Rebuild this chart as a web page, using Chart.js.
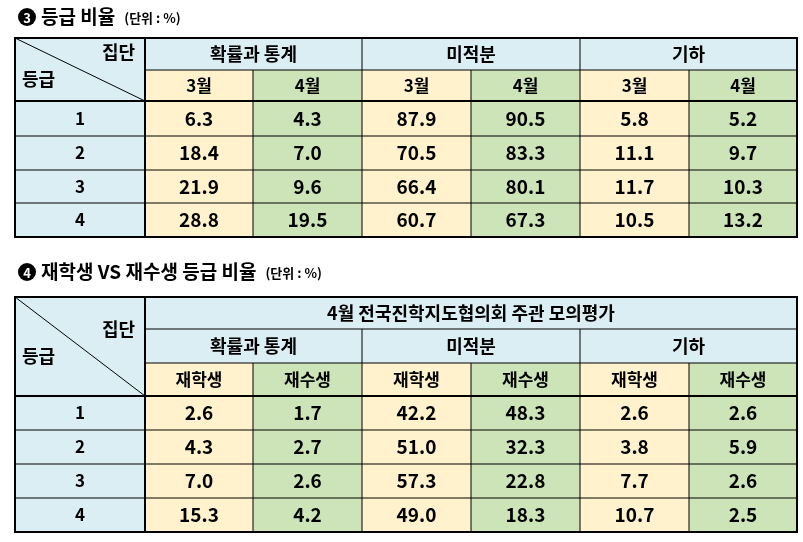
<!DOCTYPE html>
<html><head><meta charset="utf-8">
<script src="https://cdn.jsdelivr.net/npm/chart.js@4"></script>
<style>html,body{margin:0;padding:0;background:#fff}#w{width:803px;height:542px}</style>
</head><body><div id="w"><canvas id="c"></canvas></div>
<script>
const grades = ['1','2','3','4'];
const subjects = ['확률과 통계','미적분','기하'];
const months = ['3월','4월'];
const groups2 = ['재학생','재수생'];
const title1 = '등급 비율';
const title2 = '재학생 VS 재수생 등급 비율';
const title2Header = '4월 전국진학지도협의회 주관 모의평가';
const t1Prob3 = [6.3,18.4,21.9,28.8], t1Prob4 = [4.3,7.0,9.6,19.5];
const t1Calc3 = [87.9,70.5,66.4,60.7], t1Calc4 = [90.5,83.3,80.1,67.3];
const t1Geo3 = [5.8,11.1,11.7,10.5], t1Geo4 = [5.2,9.7,10.3,13.2];
const t2ProbA = [2.6,4.3,7.0,15.3], t2ProbB = [1.7,2.7,2.6,4.2];
const t2CalcA = [42.2,51.0,57.3,49.0], t2CalcB = [48.3,32.3,22.8,18.3];
const t2GeoA = [2.6,3.8,7.7,10.7], t2GeoB = [2.6,5.9,2.6,2.5];

const BLUE='#DAEEF3', YEL='#FFF2CC', GRN='#CCE4B8';
const F='"Noto Sans CJK KR", "Noto Sans", sans-serif';
const colX=[15,145,253,362,471,580,689,797];

const plugin={id:'tbl',afterDraw(chart){
  const ctx=chart.ctx, sx=chart.scales.x, sy=chart.scales.y;
  const X=v=>sx.getPixelForValue(v), Y=v=>sy.getPixelForValue(v);
  function rect(x0,y0,x1,y1,fill){ctx.fillStyle=fill;ctx.fillRect(X(x0),Y(y0),X(x1)-X(x0),Y(y1)-Y(y0));}
  function txt(s,x,y,size,align){ctx.fillStyle='#000';ctx.font='bold '+size+'px '+F;ctx.textAlign=align||'center';ctx.textBaseline='middle';ctx.fillText(s,X(x),Y(y));}
  function line(x0,y0,x1,y1,w){ctx.strokeStyle='#000';ctx.lineWidth=w;ctx.beginPath();ctx.moveTo(X(x0),Y(y0));ctx.lineTo(X(x1),Y(y1));ctx.stroke();}
  function drawTable(rowsY,groupRow,subjRow,subRow,cols){
    const top=rowsY[0], bot=rowsY[rowsY.length-1], hb=rowsY[subRow+1];
    rect(15,top,797,hb,BLUE);
    for(let k=0;k<6;k++) rect(colX[k+1],rowsY[subRow],colX[k+2],bot,k%2?GRN:YEL);
    rect(15,hb,145,bot,BLUE);
    for(let r=subRow+1;r<rowsY.length-1;r++) line(15,rowsY[r],797,rowsY[r],1);
    line(15,hb,797,hb,2);
    line(145,rowsY[subRow],797,rowsY[subRow],1);
    line(145,rowsY[subjRow],797,rowsY[subjRow],1);
    for(let k=2;k<7;k++){const full=(k%2==1); line(colX[k],full?rowsY[subjRow]:rowsY[subRow],colX[k],bot,1);}
    line(145,top,145,bot,2);
    line(15,top,145,hb,1);
    ctx.strokeStyle='#000';ctx.lineWidth=2;ctx.strokeRect(X(15),Y(top),X(797)-X(15),Y(bot)-Y(top));
    txt('집단',135,(top+hb)/2-17,18,'right');
    txt('등급',22,(top+hb)/2+10,18,'left');
    if(groupRow!==null) txt(title2Header,471,(rowsY[0]+rowsY[1])/2,18);
    subjects.forEach((s,i)=>txt(s,(colX[1+2*i]+colX[3+2*i])/2,(rowsY[subjRow]+rowsY[subjRow+1])/2,18));
    for(let k=0;k<6;k++) txt(cols.sub[k%2],(colX[k+1]+colX[k+2])/2,(rowsY[subRow]+rowsY[subRow+1])/2,17);
    grades.forEach((g,r)=>{
      const yc=(rowsY[subRow+1+r]+rowsY[subRow+2+r])/2;
      txt(g,80,yc,17);
      cols.data.forEach((arr,k)=>txt(arr[r].toFixed(1),(colX[k+1]+colX[k+2])/2,yc,19));
    });
  }
  function heading(y,main){
    ctx.fillStyle='#000';ctx.beginPath();ctx.arc(X(27),Y(y),9,0,Math.PI*2);ctx.fill();
    ctx.fillStyle='#fff';ctx.font='bold 13px '+F;ctx.textAlign='center';ctx.textBaseline='middle';ctx.fillText(main===title1?'3':'4',X(27),Y(y)+1);
    txt(main,41,y,19,'left');
    const w=ctx.measureText(main).width;
    txt('(단위 : %)',41+w+9,y+1,13,'left');
  }
  heading(17,title1);
  drawTable([38,70,101,136,170,203,237],null,0,1,{sub:months,data:[t1Prob3,t1Prob4,t1Calc3,t1Calc4,t1Geo3,t1Geo4]});
  heading(272,title2);
  drawTable([297,329,363,396,430,464,498,532],0,1,2,{sub:groups2,data:[t2ProbA,t2ProbB,t2CalcA,t2CalcB,t2GeoA,t2GeoB]});
}};
new Chart(document.getElementById('c'),{type:'scatter',data:{datasets:[{data:[]}]},
 options:{responsive:true,maintainAspectRatio:false,animation:false,layout:{padding:0},
  plugins:{legend:{display:false},tooltip:{enabled:false}},
  scales:{x:{type:'linear',min:0,max:803,display:false},y:{type:'linear',min:0,max:542,reverse:true,display:false}}},
 plugins:[plugin]});
</script></body></html>
